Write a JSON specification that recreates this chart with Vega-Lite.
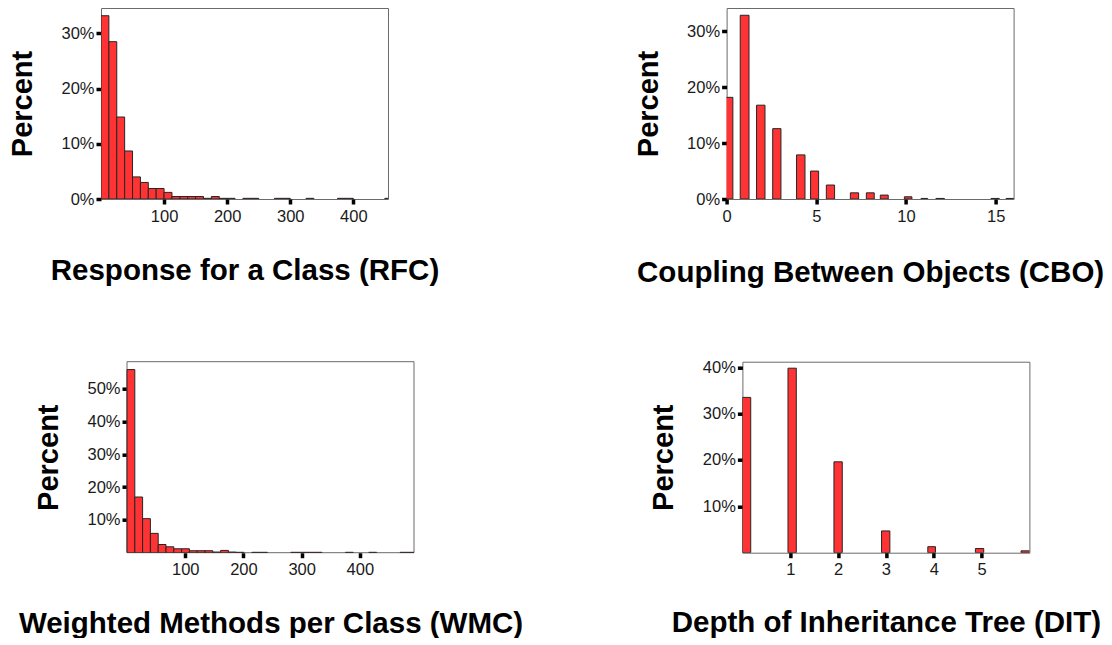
{
  "$schema": "https://vega.github.io/schema/vega-lite/v6.json",
  "background": "white",
  "padding": {"left": 7, "top": 7, "right": 0, "bottom": 0},
  "config": {
    "font": "Liberation Sans",
    "view": {"stroke": "#6b6b6b", "strokeWidth": 1},
    "axis": {
      "grid": false, "domain": false, "tickColor": "#000000", "tickWidth": 3.5, "tickSize": 5,
      "labelFont": "Liberation Sans", "labelFontSize": 16.5, "labelColor": "#1a1a1a",
      "labelFlush": false, "labelOverlap": false, "labelBound": false,
      "titleFont": "Liberation Sans", "titleFontWeight": "bold", "titleColor": "#000000"
    },
    "axisX": {"labelPadding": 4, "titleFontSize": 29.5, "titleBaseline": "alphabetic", "titleX": 143.5, "titleAlign": "center"},
    "axisY": {"labelPadding": 2, "titleFontSize": 29, "titleBaseline": "alphabetic", "titleX": -69.5, "titleY": 95.5, "titleAngle": -90, "titleAlign": "center"},
    "bar": {"fill": "#ff3333", "stroke": "#262626", "strokeWidth": 1}
  },
  "data": {"values": [
    {"m": "RFC", "b0": 0, "b1": 12.5, "pct": 33.2},
    {"m": "RFC", "b0": 12.5, "b1": 25, "pct": 28.5},
    {"m": "RFC", "b0": 25, "b1": 37.5, "pct": 14.85},
    {"m": "RFC", "b0": 37.5, "b1": 50, "pct": 8.7},
    {"m": "RFC", "b0": 50, "b1": 62.5, "pct": 4.0},
    {"m": "RFC", "b0": 62.5, "b1": 75, "pct": 3.0},
    {"m": "RFC", "b0": 75, "b1": 87.5, "pct": 1.9},
    {"m": "RFC", "b0": 87.5, "b1": 100, "pct": 1.9},
    {"m": "RFC", "b0": 100, "b1": 112.5, "pct": 1.2},
    {"m": "RFC", "b0": 112.5, "b1": 125, "pct": 0.45},
    {"m": "RFC", "b0": 125, "b1": 137.5, "pct": 0.45},
    {"m": "RFC", "b0": 137.5, "b1": 150, "pct": 0.45},
    {"m": "RFC", "b0": 150, "b1": 162.5, "pct": 0.45},
    {"m": "RFC", "b0": 162.5, "b1": 175, "pct": 0.12},
    {"m": "RFC", "b0": 175, "b1": 187.5, "pct": 0.45},
    {"m": "RFC", "b0": 187.5, "b1": 200, "pct": 0.12},
    {"m": "RFC", "b0": 200, "b1": 212.5, "pct": 0.12},
    {"m": "RFC", "b0": 225, "b1": 237.5, "pct": 0.12},
    {"m": "RFC", "b0": 237.5, "b1": 250, "pct": 0.12},
    {"m": "RFC", "b0": 275, "b1": 287.5, "pct": 0.12},
    {"m": "RFC", "b0": 287.5, "b1": 300, "pct": 0.12},
    {"m": "RFC", "b0": 325, "b1": 337.5, "pct": 0.12},
    {"m": "RFC", "b0": 375, "b1": 387.5, "pct": 0.12},
    {"m": "RFC", "b0": 387.5, "b1": 400, "pct": 0.12},
    {"m": "RFC", "b0": 450, "b1": 462.5, "pct": 0.12},
    {"m": "CBO", "b0": -0.1, "b1": 0.35, "pct": 18.2},
    {"m": "CBO", "b0": 0.76, "b1": 1.25, "pct": 32.9},
    {"m": "CBO", "b0": 1.67, "b1": 2.14, "pct": 16.8},
    {"m": "CBO", "b0": 2.57, "b1": 3.03, "pct": 12.6},
    {"m": "CBO", "b0": 3.9, "b1": 4.37, "pct": 7.9},
    {"m": "CBO", "b0": 4.68, "b1": 5.13, "pct": 5.0},
    {"m": "CBO", "b0": 5.56, "b1": 6.02, "pct": 2.5},
    {"m": "CBO", "b0": 6.9, "b1": 7.36, "pct": 1.1},
    {"m": "CBO", "b0": 7.79, "b1": 8.23, "pct": 1.1},
    {"m": "CBO", "b0": 8.57, "b1": 9.01, "pct": 0.7},
    {"m": "CBO", "b0": 9.91, "b1": 10.33, "pct": 0.4},
    {"m": "CBO", "b0": 10.84, "b1": 11.21, "pct": 0.1},
    {"m": "CBO", "b0": 11.67, "b1": 12.14, "pct": 0.1},
    {"m": "CBO", "b0": 14.74, "b1": 15.2, "pct": 0.1},
    {"m": "CBO", "b0": 15.58, "b1": 16.05, "pct": 0.1},
    {"m": "WMC", "b0": 0, "b1": 13.4, "pct": 55.9},
    {"m": "WMC", "b0": 13.4, "b1": 26.8, "pct": 17.0},
    {"m": "WMC", "b0": 26.8, "b1": 40.2, "pct": 10.4},
    {"m": "WMC", "b0": 40.2, "b1": 53.6, "pct": 5.9},
    {"m": "WMC", "b0": 53.6, "b1": 67, "pct": 2.5},
    {"m": "WMC", "b0": 67, "b1": 80.4, "pct": 1.8},
    {"m": "WMC", "b0": 80.4, "b1": 93.8, "pct": 1.2},
    {"m": "WMC", "b0": 93.8, "b1": 107.2, "pct": 1.2},
    {"m": "WMC", "b0": 107.2, "b1": 120.6, "pct": 0.6},
    {"m": "WMC", "b0": 120.6, "b1": 134, "pct": 0.6},
    {"m": "WMC", "b0": 134, "b1": 147.4, "pct": 0.6},
    {"m": "WMC", "b0": 147.4, "b1": 160.8, "pct": 0.2},
    {"m": "WMC", "b0": 160.8, "b1": 174.2, "pct": 0.7},
    {"m": "WMC", "b0": 174.2, "b1": 187.6, "pct": 0.2},
    {"m": "WMC", "b0": 187.6, "b1": 201, "pct": 0.12},
    {"m": "WMC", "b0": 214.4, "b1": 227.8, "pct": 0.12},
    {"m": "WMC", "b0": 227.8, "b1": 241.2, "pct": 0.12},
    {"m": "WMC", "b0": 281.4, "b1": 294.8, "pct": 0.12},
    {"m": "WMC", "b0": 294.8, "b1": 308.2, "pct": 0.12},
    {"m": "WMC", "b0": 308.2, "b1": 321.6, "pct": 0.12},
    {"m": "WMC", "b0": 321.6, "b1": 335, "pct": 0.12},
    {"m": "WMC", "b0": 375.2, "b1": 388.6, "pct": 0.12},
    {"m": "WMC", "b0": 415.4, "b1": 428.8, "pct": 0.12},
    {"m": "WMC", "b0": 469, "b1": 482.4, "pct": 0.12},
    {"m": "WMC", "b0": 482.4, "b1": 495.8, "pct": 0.12},
    {"m": "DIT", "b0": 0, "b1": 0.174, "pct": 33.5},
    {"m": "DIT", "b0": 0.953, "b1": 1.127, "pct": 39.8},
    {"m": "DIT", "b0": 1.914, "b1": 2.088, "pct": 19.6},
    {"m": "DIT", "b0": 2.909, "b1": 3.083, "pct": 4.7},
    {"m": "DIT", "b0": 3.876, "b1": 4.036, "pct": 1.3},
    {"m": "DIT", "b0": 4.871, "b1": 5.045, "pct": 0.9},
    {"m": "DIT", "b0": 5.825, "b1": 6.0, "pct": 0.4}
  ]},
  "spacing": 70.7,
  "vconcat": [
    {
      "spacing": 192.6,
      "hconcat": [
        {
          "width": 287, "height": 191,
          "transform": [{"filter": "datum.m === 'RFC'"}],
          "mark": {"type": "bar", "clip": true},
          "encoding": {
            "x": {"field": "b0", "type": "quantitative", "scale": {"domain": [0, 455], "nice": false, "zero": false},
                  "axis": {"title": "Response for a Class (RFC)", "values": [100, 200, 300, 400], "titleY": 80.5}},
            "x2": {"field": "b1"},
            "y": {"field": "pct", "type": "quantitative", "stack": null, "scale": {"domain": [0, 34.6], "nice": false},
                  "axis": {"title": "Percent", "values": [0, 10, 20, 30], "labelExpr": "datum.value + '%'"}},
            "y2": {"datum": 0}
          }
        },
        {
          "width": 287, "height": 191,
          "transform": [{"filter": "datum.m === 'CBO'"}],
          "mark": {"type": "bar", "clip": true},
          "encoding": {
            "x": {"field": "b0", "type": "quantitative", "scale": {"domain": [0, 16], "nice": false, "zero": false},
                  "axis": {"title": "Coupling Between Objects (CBO)", "values": [0, 5, 10, 15], "titleY": 82.6}},
            "x2": {"field": "b1"},
            "y": {"field": "pct", "type": "quantitative", "stack": null, "scale": {"domain": [0, 34.2], "nice": false},
                  "axis": {"title": "Percent", "values": [0, 10, 20, 30], "labelExpr": "datum.value + '%'"}},
            "y2": {"datum": 0}
          }
        }
      ]
    },
    {
      "spacing": 125.4,
      "hconcat": [
        {
          "width": 313, "height": 191,
          "view": {"stroke": null},
          "layer": [
            {
              "data": {"values": [{"frame": "WMC"}]},
              "mark": {"type": "rect", "fill": null, "stroke": "#6b6b6b", "strokeWidth": 1},
              "encoding": {
                "x": {"datum": 0, "type": "quantitative", "scale": {"domain": [0, 493], "range": [26, 313], "nice": false, "zero": false},
                      "axis": {"title": "Weighted Methods per Class (WMC)", "values": [100, 200, 300, 400], "titleY": 79.7, "titleX": 169.5}},
                "x2": {"datum": 493},
                "y": {"datum": 0, "type": "quantitative", "scale": {"domain": [0, 58.3], "nice": false},
                      "axis": {"title": "Percent", "values": [10, 20, 30, 40, 50], "labelExpr": "datum.value + '%'", "offset": -26}},
                "y2": {"datum": 58.3}
              }
            },
            {
              "transform": [{"filter": "datum.m === 'WMC'"}],
              "mark": {"type": "bar", "clip": true},
              "encoding": {
                "x": {"field": "b0", "type": "quantitative", "scale": {"domain": [0, 493], "range": [26, 313], "nice": false, "zero": false},
                      "axis": {"title": "Weighted Methods per Class (WMC)", "values": [100, 200, 300, 400], "titleY": 79.7, "titleX": 169.5}},
                "x2": {"field": "b1"},
                "y": {"field": "pct", "type": "quantitative", "stack": null, "scale": {"domain": [0, 58.3], "nice": false},
                      "axis": {"title": "Percent", "values": [10, 20, 30, 40, 50], "labelExpr": "datum.value + '%'", "offset": -26}},
                "y2": {"datum": 0}
              }
            }
          ]
        },
        {
          "width": 287, "height": 191,
          "transform": [{"filter": "datum.m === 'DIT'"}],
          "mark": {"type": "bar", "clip": true},
          "encoding": {
            "x": {"field": "b0", "type": "quantitative", "scale": {"domain": [0, 6], "nice": false, "zero": false},
                  "axis": {"title": "Depth of Inheritance Tree (DIT)", "values": [1, 2, 3, 4, 5], "titleY": 78.4}},
            "x2": {"field": "b1"},
            "y": {"field": "pct", "type": "quantitative", "stack": null, "scale": {"domain": [0, 41.2], "nice": false},
                  "axis": {"title": "Percent", "values": [10, 20, 30, 40], "labelExpr": "datum.value + '%'"}},
            "y2": {"datum": 0}
          }
        }
      ]
    }
  ]
}
